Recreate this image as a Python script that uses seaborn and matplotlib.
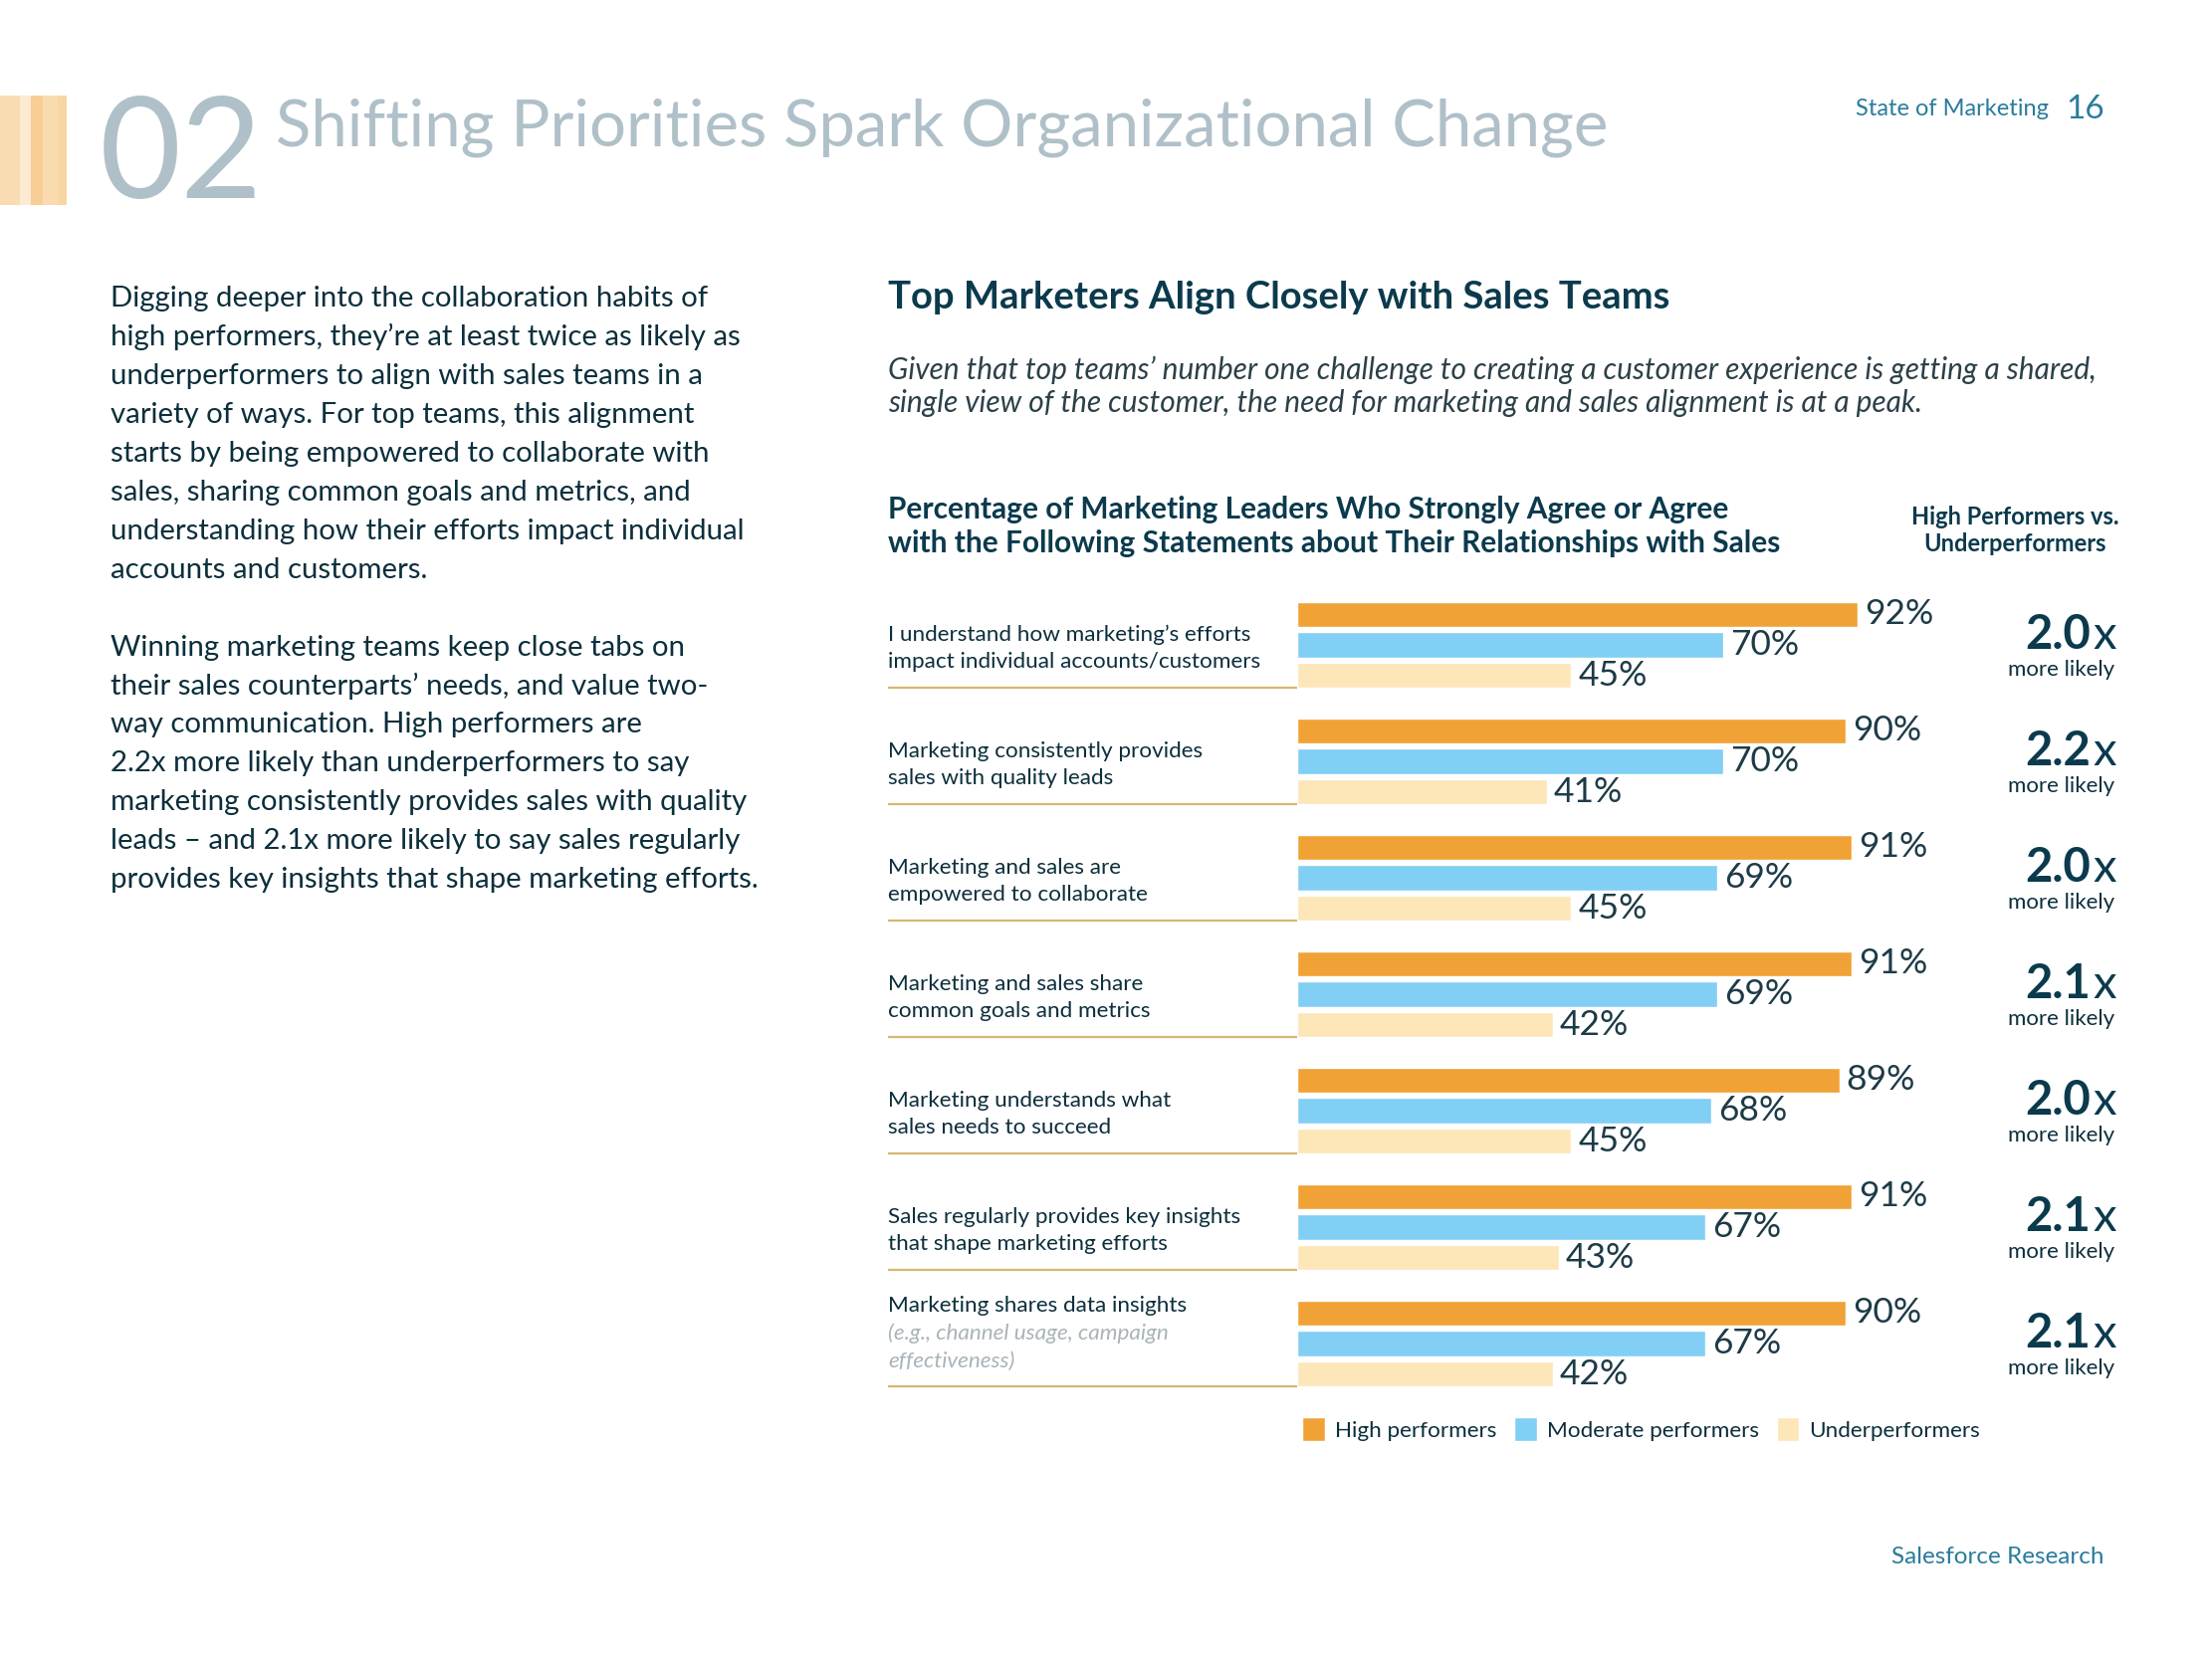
import numpy as np
import pandas as pd
import matplotlib
matplotlib.use("Agg")
import matplotlib.pyplot as plt
import matplotlib.transforms as mtrans
from matplotlib.patches import Rectangle
import seaborn as sns

# ---------------- data ----------------
statements = [
    ["I understand how marketing\u2019s efforts", "impact individual accounts/customers"],
    ["Marketing consistently provides", "sales with quality leads"],
    ["Marketing and sales are", "empowered to collaborate"],
    ["Marketing and sales share", "common goals and metrics"],
    ["Marketing understands what", "sales needs to succeed"],
    ["Sales regularly provides key insights", "that shape marketing efforts"],
    ["Marketing shares data insights"],
]
statement_notes = [[], [], [], [], [], [], ["(e.g., channel usage, campaign", "effectiveness)"]]
high = [92, 90, 91, 91, 89, 91, 90]
moderate = [70, 70, 69, 69, 68, 67, 67]
under = [45, 41, 45, 42, 45, 43, 42]
ratios = ["2.0", "2.2", "2.0", "2.1", "2.0", "2.1", "2.1"]
groups = ["High performers", "Moderate performers", "Underperformers"]
colors = ["#F0A236", "#82CFF5", "#FDE6B8"]

body_lines = [
    "Digging deeper into the collaboration habits of",
    "high performers, they\u2019re at least twice as likely as",
    "underperformers to align with sales teams in a",
    "variety of ways. For top teams, this alignment",
    "starts by being empowered to collaborate with",
    "sales, sharing common goals and metrics, and",
    "understanding how their efforts impact individual",
    "accounts and customers.",
    "",
    "Winning marketing teams keep close tabs on",
    "their sales counterparts\u2019 needs, and value two-",
    "way communication. High performers are",
    "2.2x more likely than underperformers to say",
    "marketing consistently provides sales with quality",
    "leads \u2013 and 2.1x more likely to say sales regularly",
    "provides key insights that shape marketing efforts.",
]

# ---------------- style ----------------
W, H = 2222, 1667
sns.set_theme(style="white")
plt.rcParams['font.family'] = ['Lato', 'DejaVu Sans']

DARK = "#0C2F3C"
HEAD = "#0B3A4D"
GRAY = "#AFC0C8"
TEAL = "#2A7C9C"
LINE = "#D8B66E"

fig = plt.figure(figsize=(W / 100, H / 100), dpi=100)
fig.patch.set_facecolor("white")


def fx(x):
    return x / W


def fy(y):
    return 1 - y / H


# decorative stripes
stripe_x = [0, 20, 31, 43, 58]
stripe_w = [20, 11, 12, 15, 9]
stripe_c = ["#F9DCB1", "#FCEAD2", "#F7CE96", "#F9DBAF", "#F8D5A5"]
for sx, sw, sc in zip(stripe_x, stripe_w, stripe_c):
    fig.patches.append(Rectangle((fx(sx), fy(206)), sw / W, 110 / H,
                                 transform=fig.transFigure, color=sc, lw=0))

fig.text(fx(100), fy(199), "02", fontsize=102, fontweight="normal", color=GRAY,
         ha="left", va="baseline")
fig.text(fx(277), fy(146), "Shifting Priorities Spark Organizational Change",
         fontsize=47, fontweight="normal", color=GRAY, ha="left", va="baseline")
fig.text(fx(2058), fy(116), "State of Marketing", fontsize=17, fontweight="normal",
         color=TEAL, ha="right", va="baseline")
fig.text(fx(2075), fy(119), "16", fontsize=24, fontweight="normal",
         color=TEAL, ha="left", va="baseline")

# body text
for i, line in enumerate(body_lines):
    if line:
        fig.text(fx(111), fy(308 + i * 38.95), line, fontsize=21.2, fontweight="normal",
                 color=DARK, ha="left", va="baseline")

fig.text(fx(892), fy(310), "Top Marketers Align Closely with Sales Teams", fontsize=27.5,
         fontweight="bold", color=HEAD, ha="left", va="baseline")
fig.text(fx(892), fy(381), "Given that top teams\u2019 number one challenge to creating a customer experience is getting a shared,",
         fontsize=21.5, fontweight="normal", style="italic", color="#2C4048", ha="left", va="baseline")
fig.text(fx(892), fy(414), "single view of the customer, the need for marketing and sales alignment is at a peak.",
         fontsize=21.5, fontweight="normal", style="italic", color="#2C4048", ha="left", va="baseline")
fig.text(fx(892), fy(521), "Percentage of Marketing Leaders Who Strongly Agree or Agree",
         fontsize=21.5, fontweight="bold", color=HEAD, ha="left", va="baseline")
fig.text(fx(892), fy(555), "with the Following Statements about Their Relationships with Sales",
         fontsize=21.5, fontweight="bold", color=HEAD, ha="left", va="baseline")
fig.text(fx(2024), fy(527), "High Performers vs.", fontsize=17, fontweight="bold",
         color=HEAD, ha="center", va="baseline")
fig.text(fx(2024), fy(554), "Underperformers", fontsize=17, fontweight="bold",
         color=HEAD, ha="center", va="baseline")

# ---------------- chart ----------------
ax = fig.add_axes([fx(1303), fy(1408.5), 612 / W, 819 / H])
keys = [" ".join(s) for s in statements]
df = pd.DataFrame({
    "statement": keys * 3,
    "value": high + moderate + under,
    "group": [groups[0]] * 7 + [groups[1]] * 7 + [groups[2]] * 7,
})
sns.barplot(data=df, x="value", y="statement", hue="group", hue_order=groups,
            palette=colors, orient="h", width=0.784, gap=0.16, errorbar=None,
            saturation=1, ax=ax)
ax.set_xlim(0, 100)
ax.set_ylim(6.5, -0.5)
ax.set_axis_off()

for cont, vals in zip(ax.containers, [high, moderate, under]):
    ax.bar_label(cont, labels=[f"{v}%" for v in vals], padding=5, fontsize=25.5,
                 fontweight="normal", color="#1D3B47")

blend = mtrans.blended_transform_factory(fig.transFigure, ax.transData)
dy = 0.236
for i, (lines, notes) in enumerate(zip(statements, statement_notes)):
    allines = [(l, False) for l in lines] + [(l, True) for l in notes]
    n = len(allines)
    for j, (txt, is_note) in enumerate(allines):
        y = i + 0.20 - (n - 1 - j) * dy
        ax.text(fx(892), y, txt, transform=blend, ha="left", va="baseline",
                fontsize=16.2, fontweight="normal", color="#A9B4B9" if is_note else DARK,
                style="italic" if is_note else "normal", clip_on=False)
    ax.plot([fx(892), fx(1303)], [i + 0.371, i + 0.371], transform=blend,
            color=LINE, lw=1.6, clip_on=False, solid_capstyle="butt")
    ax.text(fx(2100), i + 0.035, ratios[i], transform=blend, ha="right", va="baseline",
            fontsize=34, fontweight="bold", color=HEAD, clip_on=False)
    ax.text(fx(2102), i + 0.035, "x", transform=blend, ha="left", va="baseline",
            fontsize=34, fontweight="normal", color=HEAD, clip_on=False)
    ax.text(fx(2124), i + 0.262, "more likely", transform=blend, ha="right", va="baseline",
            fontsize=16, fontweight="normal", color=DARK, clip_on=False)

sns.move_legend(ax, loc="center left", bbox_to_anchor=(fx(1308), fy(1436)),
                bbox_transform=fig.transFigure, ncol=3, frameon=False, title=None,
                handlelength=1.0, handleheight=1.3, handletextpad=0.45,
                columnspacing=0.8, borderpad=0, borderaxespad=0,
                prop={"size": 16.2, "weight": "normal"}, labelcolor=DARK)

fig.text(fx(2113), fy(1571), "Salesforce Research", fontsize=17.5, fontweight="normal",
         color=TEAL, ha="right", va="baseline")

fig.savefig("out.png", dpi=100, facecolor="white")
